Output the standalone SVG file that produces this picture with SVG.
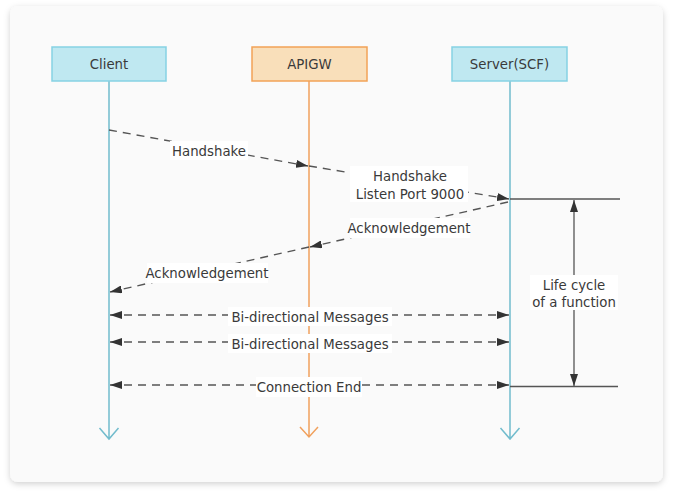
<svg xmlns="http://www.w3.org/2000/svg" width="674" height="494" viewBox="0 0 674 494">
<style>
.t{font-family:"DejaVu Sans","Liberation Sans",sans-serif;font-size:13.3px;fill:#3a3a3a;text-anchor:middle}
.bx{stroke-width:1.5}
.blue{fill:#bfe8f1;stroke:#86d2e3}
.orange{fill:#f9dfba;stroke:#f2a357}
.ll{fill:none;stroke-width:1.5}
.llb{stroke:#72bccd}
.llo{stroke:#f1a15d}
.msg{fill:none;stroke:#555;stroke-width:1.4;stroke-dasharray:8 6}
.sol{fill:none;stroke:#555;stroke-width:1.3}
.lbl{fill:#fff}
</style>
<defs>
<marker id="ah" viewBox="0 0 12 8" refX="12" refY="4" markerWidth="12" markerHeight="8" markerUnits="userSpaceOnUse" orient="auto-start-reverse">
<path d="M0,0 L12,4 L0,8 Z" fill="#333"/>
</marker>
<filter id="sh" x="-5%" y="-5%" width="110%" height="112%">
<feDropShadow dx="0" dy="2" stdDeviation="3" flood-color="#000" flood-opacity="0.18"/>
</filter>
</defs>
<rect width="674" height="494" fill="#fff"/>
<rect x="10" y="6" width="653" height="476" rx="8" fill="#fafafa" filter="url(#sh)"/>

<g id="lifelines">
<path class="ll llb" d="M109,81 V439 M99.5,428 L109,439 L118.5,428"/>
<path class="ll llo" d="M309,81 V437 M300,427 L309,437 L318,427"/>
<path class="ll llb" d="M510,81 V439 M500.5,428 L510,439 L519.5,428"/>
</g>

<g id="client">
<rect class="bx blue" x="52" y="47" width="114" height="34"/>
<text class="t" x="109" y="69">Client</text>
</g>
<g id="apigw">
<rect class="bx orange" x="252" y="47" width="115" height="34"/>
<text class="t" x="309.5" y="69">APIGW</text>
</g>
<g id="server">
<rect class="bx blue" x="452" y="47" width="115" height="34"/>
<text class="t" x="509.5" y="69">Server(SCF)</text>
</g>

<g id="connectors">
<path class="msg" d="M109,130 L308,166" marker-end="url(#ah)"/>
<path class="msg" d="M309,166 L509,199" marker-end="url(#ah)"/>
<path class="msg" d="M508,202 L310,247" marker-end="url(#ah)"/>
<path class="msg" d="M309,247 L110,292" marker-end="url(#ah)"/>
<path class="msg" d="M110,315 L509,315" marker-start="url(#ah)" marker-end="url(#ah)"/>
<path class="msg" d="M110,342 L509,342" marker-start="url(#ah)" marker-end="url(#ah)"/>
<path class="msg" d="M110,385 L509,385" marker-start="url(#ah)" marker-end="url(#ah)"/>
<path class="sol" d="M510,199 H620 M510,386.5 H618"/>
<path class="sol" d="M574,200 V386" marker-start="url(#ah)" marker-end="url(#ah)"/>
</g>

<g id="labels">
<rect class="lbl" x="170" y="141" width="78" height="19"/>
<text class="t" x="209" y="156">Handshake</text>
<rect class="lbl" x="350" y="166" width="118" height="36"/>
<text class="t" x="410" y="181">Handshake</text>
<text class="t" x="410" y="199">Listen Port 9000</text>
<rect class="lbl" x="350" y="218" width="120" height="20"/>
<text class="t" x="409" y="233">Acknowledgement</text>
<rect class="lbl" x="147" y="263" width="121" height="20"/>
<text class="t" x="207" y="278">Acknowledgement</text>
<rect class="lbl" x="228" y="307" width="164" height="19"/>
<text class="t" x="310" y="322">Bi-directional Messages</text>
<rect class="lbl" x="228" y="334" width="164" height="19"/>
<text class="t" x="310" y="349">Bi-directional Messages</text>
<rect class="lbl" x="256" y="377" width="106" height="20"/>
<text class="t" x="309" y="392">Connection End</text>
<rect class="lbl" x="530" y="275" width="88" height="35"/>
<text class="t" x="574" y="290">Life cycle</text>
<text class="t" x="574" y="307">of a function</text>
</g>
</svg>
